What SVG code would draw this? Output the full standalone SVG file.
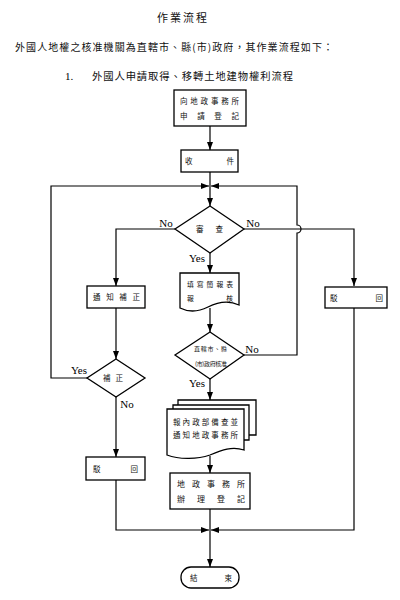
<svg xmlns="http://www.w3.org/2000/svg" width="400" height="600" viewBox="0 0 400 600">
<defs>
<marker id="arr" markerUnits="userSpaceOnUse" markerWidth="8" markerHeight="8" viewBox="0 0 8 8" refX="8" refY="4" orient="auto">
<path d="M0,1 L8,4 L0,7 Z" fill="#000"/>
</marker>
</defs>
<style>
.shape{fill:#fff;stroke:#000;stroke-width:1.3}
.conn{fill:none;stroke:#000;stroke-width:1.2}
.cjk{font-family:"Noto Sans CJK TC","Noto Sans CJK SC",sans-serif;fill:#111}
.lbl{font-family:"Liberation Serif",serif;font-size:11px;fill:#000;text-anchor:middle}
.bt{font-size:7.5px}
</style>
<rect width="400" height="600" fill="#fff"/>
<g id="heading">
<text class="cjk" x="157" y="22" font-size="11" textLength="50" lengthAdjust="spacing">作業流程</text>
<text class="cjk" x="15" y="51" font-size="10" textLength="318" lengthAdjust="spacing">外國人地權之核准機關為直轄市、縣(市)政府，其作業流程如下：</text>
<text x="65" y="80" font-family="Liberation Serif,serif" font-size="11">1.</text>
<text class="cjk" x="92" y="80" font-size="10.3" textLength="201" lengthAdjust="spacing">外國人申請取得、移轉土地建物權利流程</text>
</g>
<g id="connectors">
<path class="conn" d="M210,126 V150" marker-end="url(#arr)"/>
<path class="conn" d="M210,172 V206" marker-end="url(#arr)"/>
<path class="conn" d="M87,378 H51 V186 H209" marker-end="url(#arr)"/>
<path class="conn" d="M244,355 H297 V233 A4,4 0 0 0 297,225 V186 H211" marker-end="url(#arr)"/>
<path class="conn" d="M175,229 H116 V286" marker-end="url(#arr)"/>
<path class="conn" d="M244,229 H354 V286" marker-end="url(#arr)"/>
<path class="conn" d="M210,253 V273" marker-end="url(#arr)"/>
<path class="conn" d="M210,308 V332" marker-end="url(#arr)"/>
<path class="conn" d="M116,308 V359" marker-end="url(#arr)"/>
<path class="conn" d="M116,397 V457" marker-end="url(#arr)"/>
<path class="conn" d="M210,379 V400" marker-end="url(#arr)"/>
<path class="conn" d="M210,456 V473" marker-end="url(#arr)"/>
<path class="conn" d="M210,509 V567" marker-end="url(#arr)"/>
<path class="conn" d="M116,480 V530 H209" marker-end="url(#arr)"/>
<path class="conn" d="M354,308 V530 H211" marker-end="url(#arr)"/>
<text class="lbl" x="166" y="227">No</text>
<text class="lbl" x="253" y="227">No</text>
<text class="lbl" x="197" y="262">Yes</text>
<text class="lbl" x="252" y="353">No</text>
<text class="lbl" x="197" y="387">Yes</text>
<text class="lbl" x="79" y="374">Yes</text>
<text class="lbl" x="127" y="408">No</text>
</g>
<g id="n-apply">
<rect class="shape" x="174" y="90" width="72" height="36"/>
<text class="cjk bt" x="180" y="104" textLength="59" lengthAdjust="spacing">向地政事務所</text>
<text class="cjk bt" x="180" y="119" textLength="59" lengthAdjust="spacing">申請登記</text>
</g>
<g id="n-receive">
<rect class="shape" x="181" y="150" width="57" height="22"/>
<text class="cjk bt" x="185" y="164" textLength="49" lengthAdjust="spacing">收件</text>
</g>
<g id="n-review">
<polygon class="shape" points="210,206 244,229 210,253 175,229"/>
<text class="cjk bt" x="196" y="232" textLength="27" lengthAdjust="spacing">審查</text>
</g>
<g id="n-notify">
<rect class="shape" x="87" y="286" width="58" height="22"/>
<text class="cjk bt" x="93" y="300" textLength="47" lengthAdjust="spacing">通知補正</text>
</g>
<g id="n-reject-right">
<rect class="shape" x="325" y="287" width="62" height="21"/>
<text class="cjk bt" x="330" y="301" textLength="53" lengthAdjust="spacing">駁回</text>
</g>
<g id="n-form">
<path class="shape" d="M180,273 H239 V305 C228,300 218,302 208,307 C198,312 188,312 180,308 Z"/>
<text class="cjk" font-size="6.8" x="187" y="287" textLength="46" lengthAdjust="spacing">填寫簡報表</text>
<text class="cjk" font-size="6.8" x="187" y="301" textLength="46" lengthAdjust="spacing">報核</text>
</g>
<g id="n-approve">
<polygon class="shape" points="210,332 244,355 210,379 175,355"/>
<text class="cjk" font-size="6" x="194" y="351" textLength="33" lengthAdjust="spacing">直轄市、縣</text>
<text class="cjk" font-size="6" x="195" y="366" textLength="32" lengthAdjust="spacing">(市)政府核准</text>
</g>
<g id="n-correct">
<polygon class="shape" points="116,359 145,378 116,397 87,378"/>
<text class="cjk bt" x="103" y="381" textLength="20" lengthAdjust="spacing">補正</text>
</g>
<g id="n-reject-left">
<rect class="shape" x="86" y="457" width="59" height="23"/>
<text class="cjk bt" x="93" y="472" textLength="45" lengthAdjust="spacing">駁回</text>
</g>
<g id="n-report">
<path class="shape" d="M178,405 V400 H256 V435 H249"/>
<path class="shape" d="M173,409 V405 H249 V440 H244"/>
<path class="shape" d="M167,409 H244 V450 C232,446 222,450 210,455 C198,459 180,460 167,455 Z"/>
<text class="cjk bt" x="173" y="425" textLength="65" lengthAdjust="spacing">報內政部備查並</text>
<text class="cjk bt" x="173" y="438" textLength="65" lengthAdjust="spacing">通知地政事務所</text>
</g>
<g id="n-register">
<rect class="shape" x="170" y="473" width="80" height="36"/>
<text class="cjk" font-size="8" x="177" y="487" textLength="68" lengthAdjust="spacing">地政事務所</text>
<text class="cjk" font-size="8" x="177" y="502" textLength="68" lengthAdjust="spacing">辦理登記</text>
</g>
<g id="n-end">
<rect class="shape" x="181" y="567" width="58" height="21" rx="10" ry="10"/>
<text class="cjk bt" x="190" y="581" textLength="42" lengthAdjust="spacing">結束</text>
</g>
</svg>
